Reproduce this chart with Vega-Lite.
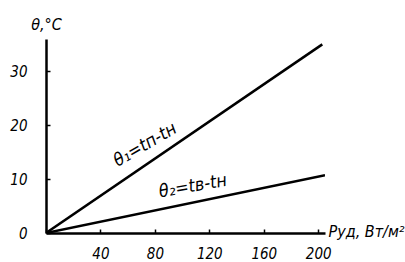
{
  "$schema": "https://vega.github.io/schema/vega-lite/v6.json",
  "width": 279,
  "height": 194,
  "autosize": {"type": "none"},
  "padding": {"left": 46, "top": 39, "right": 80, "bottom": 29},
  "background": "white",
  "config": {
    "view": {"stroke": null},
    "font": "DejaVu Sans Condensed",
    "axis": {"grid": false, "domainColor": "black", "domainWidth": 2.5, "tickColor": "black", "tickWidth": 1.5, "labelColor": "black", "titleColor": "black", "labelFont": "DejaVu Sans Condensed", "titleFont": "DejaVu Sans Condensed", "labelFontStyle": "italic", "titleFontStyle": "italic", "labelFontSize": 15, "titleFontSize": 16, "titleFontWeight": "normal", "labelFontWeight": "normal"}
  },
  "datasets": {
    "lines": [
      {"p": 0, "theta": 0, "series": "θ1"},
      {"p": 203, "theta": 35, "series": "θ1"},
      {"p": 0, "theta": 0, "series": "θ2"},
      {"p": 205, "theta": 10.7, "series": "θ2"}
    ],
    "labels": [
      {"p": 73, "theta": 16.3, "text": "θ₁=tп-tн", "angle": -30},
      {"p": 108, "theta": 8.6, "text": "θ₂=tв-tн", "angle": -10}
    ]
  },
  "layer": [
    {
      "data": {"name": "lines"},
      "mark": {"type": "line", "color": "black", "strokeWidth": 2.5, "clip": true},
      "encoding": {
        "x": {"field": "p", "type": "quantitative", "scale": {"domain": [0, 205], "nice": false},
          "axis": {"values": [0, 20, 40, 60, 80, 100, 120, 140, 160, 180, 200], "tickSize": -4, "labelExpr": "datum.value % 40 == 0 && datum.value > 0 ? datum.label : ''", "labelPadding": 17, "title": "Pуд, Вт/м²", "titleAngle": 0, "titleX": 282, "titleY": 6, "titleAlign": "left", "titleBaseline": "bottom"}},
        "y": {"field": "theta", "type": "quantitative", "scale": {"domain": [0, 36], "nice": false},
          "axis": {"values": [0, 5, 10, 15, 20, 25, 30, 35], "tickSize": -4, "labelExpr": "datum.value % 10 == 0 ? datum.label : ''", "labelPadding": 23, "title": "θ,°C", "titleAngle": 0, "titleX": 0, "titleY": -15, "titleAlign": "center", "titleBaseline": "middle"}},
        "detail": {"field": "series"}
      }
    },
    {
      "data": {"name": "labels"},
      "mark": {"type": "text", "font": "DejaVu Sans Condensed", "fontStyle": "italic", "fontSize": 18, "color": "black", "align": "center", "baseline": "middle"},
      "encoding": {
        "x": {"field": "p", "type": "quantitative"},
        "y": {"field": "theta", "type": "quantitative"},
        "text": {"field": "text"},
        "angle": {"field": "angle", "type": "quantitative", "scale": null}
      }
    }
  ]
}
